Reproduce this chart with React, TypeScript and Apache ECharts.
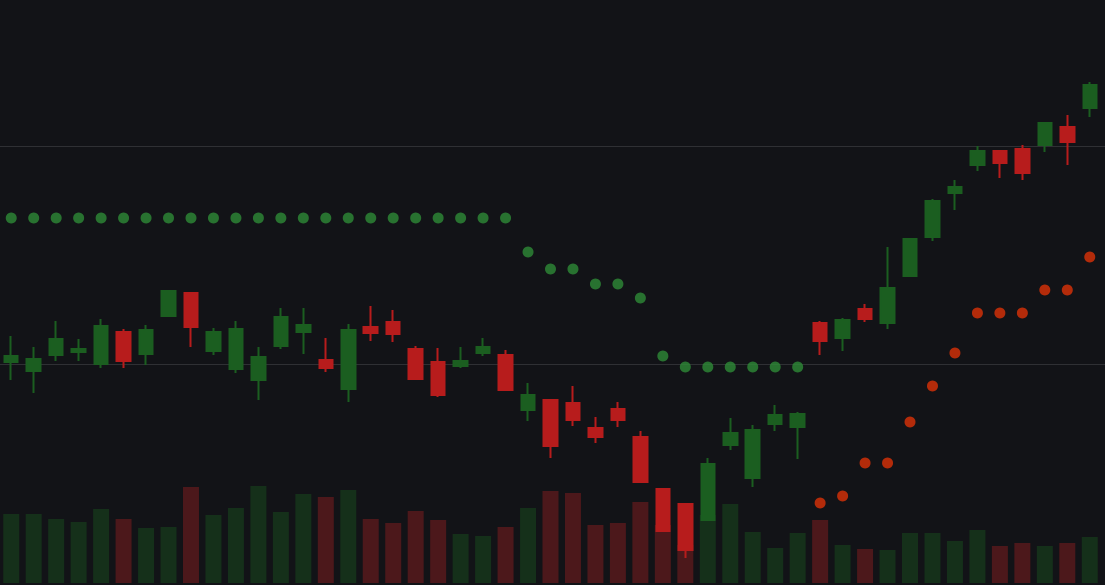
import React, { useEffect, useRef } from "react";
import * as echarts from "echarts";

const categories: string[] = Array.from({ length: 49 }, (_, i) => String(i + 1));

// [open, close, low, high]
const candles: number[][] = [
  [100.09, 100.37, 99.27, 101.28],
  [99.68, 100.23, 98.67, 100.78],
  [100.41, 101.15, 100.14, 101.97],
  [100.55, 100.69, 100.14, 101.15],
  [100.0, 101.74, 99.82, 102.06],
  [101.47, 100.14, 99.82, 101.61],
  [100.46, 101.56, 99.95, 101.79],
  [102.2, 103.35, 102.2, 103.35],
  [103.26, 101.7, 100.78, 103.26],
  [100.6, 101.47, 100.41, 101.65],
  [99.77, 101.61, 99.59, 101.97],
  [99.27, 100.32, 98.35, 100.78],
  [100.83, 102.16, 100.69, 102.57],
  [101.47, 101.79, 100.46, 102.57],
  [100.18, 99.82, 99.63, 101.19],
  [98.85, 101.56, 98.26, 101.83],
  [101.7, 101.42, 101.05, 102.66],
  [101.93, 101.38, 101.01, 102.48],
  [100.69, 99.31, 99.31, 100.83],
  [100.09, 98.58, 98.49, 100.73],
  [99.91, 100.14, 99.82, 100.78],
  [100.5, 100.78, 100.37, 101.19],
  [100.41, 98.81, 98.81, 100.64],
  [97.89, 98.58, 97.39, 99.13],
  [98.35, 96.24, 95.69, 98.35],
  [98.21, 97.43, 97.16, 98.99],
  [97.06, 96.65, 96.38, 97.57],
  [97.94, 97.43, 97.11, 98.26],
  [96.65, 94.59, 94.59, 96.93],
  [94.27, 92.34, 92.29, 94.27],
  [93.58, 91.47, 91.1, 93.58],
  [92.84, 95.41, 92.8, 95.69],
  [96.28, 96.83, 96.06, 97.52],
  [94.77, 96.97, 94.36, 97.2],
  [97.25, 97.66, 96.93, 98.12],
  [97.11, 97.71, 95.64, 97.8],
  [101.88, 101.05, 100.41, 101.97],
  [101.19, 102.02, 100.6, 102.11],
  [102.52, 102.06, 101.93, 102.75],
  [101.88, 103.49, 101.61, 105.37],
  [104.04, 105.73, 104.04, 105.73],
  [105.83, 107.48, 105.64, 107.57],
  [107.84, 108.12, 107.06, 108.44],
  [109.13, 109.77, 108.85, 110.0],
  [109.77, 109.22, 108.53, 109.77],
  [109.86, 108.76, 108.44, 110.05],
  [110.05, 111.05, 109.72, 111.1],
  [110.87, 110.18, 109.13, 111.42],
  [111.74, 112.8, 111.33, 112.94],
];

const volumes: number[] = [
  69, 69, 64, 61, 74, 64, 55, 56, 96, 68, 75, 97, 71, 89, 86, 93, 64, 60, 72, 63,
  49, 47, 56, 75, 92, 90, 58, 60, 81, 58, 38, 68, 79, 51, 35, 50, 63, 38, 34, 33,
  50, 50, 42, 53, 37, 40, 37, 40, 46,
];

// SAR-style dots: value and trend (1 = above price / green, -1 = below / red)
const sarValues: number[] = [
  106.7, 106.7, 106.7, 106.7, 106.7, 106.7, 106.7, 106.7, 106.7, 106.7, 106.7, 106.7,
  106.7, 106.7, 106.7, 106.7, 106.7, 106.7, 106.7, 106.7, 106.7, 106.7, 106.7,
  105.14, 104.36, 104.36, 103.67, 103.67, 103.03, 100.37, 99.86, 99.86, 99.86, 99.86,
  99.86, 99.86,
  93.62, 93.94, 95.46, 95.46, 97.34, 98.99, 100.5, 102.34, 102.34, 102.34, 103.39,
  103.39, 104.91,
];
const sarTrend: number[] = [
  1, 1, 1, 1, 1, 1, 1, 1, 1, 1, 1, 1, 1, 1, 1, 1, 1, 1, 1, 1, 1, 1, 1, 1, 1, 1, 1, 1,
  1, 1, 1, 1, 1, 1, 1, 1, -1, -1, -1, -1, -1, -1, -1, -1, -1, -1, -1, -1, -1,
];

const priceMin = 89.862;
const priceMax = 116.697;

const UP = "#1b5e20";
const DOWN = "#b71c1c";
const UP_VOL = "#15301a";
const DOWN_VOL = "#4c181b";

export default function App() {
  const ref = useRef<HTMLDivElement>(null);

  useEffect(() => {
    document.body.style.margin = "0";
    document.body.style.background = "#121317";
    if (!ref.current) return;
    const chart = echarts.init(ref.current, undefined, { renderer: "svg" });

    const volData = volumes.map((v, i) => ({
      value: v,
      itemStyle: { color: candles[i][1] >= candles[i][0] ? UP_VOL : DOWN_VOL },
    }));
    const greenDots = sarValues.map((v, i) => (sarTrend[i] === 1 ? v : "-"));
    const redDots = sarValues.map((v, i) => (sarTrend[i] === -1 ? v : "-"));

    chart.setOption({
      animation: false,
      backgroundColor: "#121317",
      grid: [
        { left: -1, right: 4, top: 0, bottom: 0 },
        { left: -1, right: 4, top: 383, bottom: 2 },
        { left: 0, right: 0, top: 146, bottom: 221 },
      ],
      xAxis: [
        { type: "category", data: categories, gridIndex: 0, show: false, boundaryGap: true },
        { type: "category", data: categories, gridIndex: 1, show: false, boundaryGap: true },
        { type: "value", gridIndex: 2, show: false, min: 0, max: 1 },
      ],
      yAxis: [
        { type: "value", gridIndex: 0, min: priceMin, max: priceMax, show: false, splitLine: { show: false } },
        { type: "value", gridIndex: 1, min: 0, max: 200, show: false, splitLine: { show: false } },
        {
          type: "value",
          gridIndex: 2,
          min: 100,
          max: 110,
          interval: 10,
          axisLabel: { show: false },
          axisLine: { show: false },
          axisTick: { show: false },
          splitLine: { show: true, lineStyle: { color: "#2f3034", width: 1 } },
        },
      ],
      series: [
        {
          type: "bar",
          xAxisIndex: 1,
          yAxisIndex: 1,
          data: volData,
          barWidth: 16,
          z: 1,
        },
        {
          type: "candlestick",
          xAxisIndex: 0,
          yAxisIndex: 0,
          data: candles,
          barWidth: 14,
          z: 3,
          itemStyle: {
            color: UP,
            color0: DOWN,
            borderColor: UP,
            borderColor0: DOWN,
            borderWidth: 2,
          },
        },
        {
          type: "scatter",
          xAxisIndex: 0,
          yAxisIndex: 0,
          data: greenDots,
          symbolSize: 11,
          itemStyle: { color: "#2e8b37" },
          z: 4,
        },
        {
          type: "scatter",
          xAxisIndex: 0,
          yAxisIndex: 0,
          data: redDots,
          symbolSize: 11,
          itemStyle: { color: "#dc3208" },
          z: 4,
        },
      ],
    });

    return () => chart.dispose();
  }, []);

  return (
    <div
      ref={ref}
      style={{ position: "fixed", left: 0, top: 0, width: 1105, height: 585, background: "#121317" }}
    />
  );
}
